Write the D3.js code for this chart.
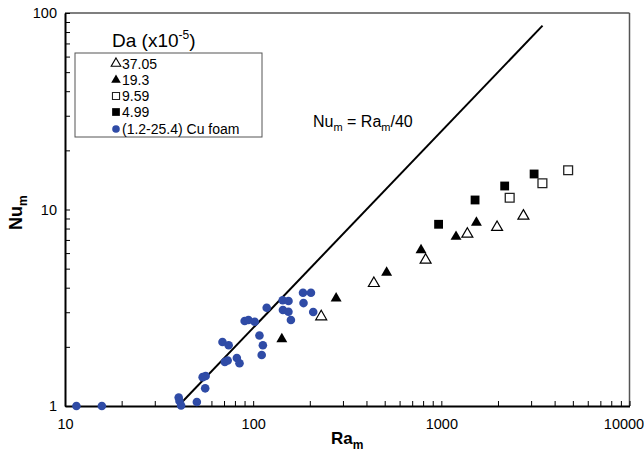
<!DOCTYPE html>
<html>
<head>
<meta charset="utf-8">
<script src="https://cdn.jsdelivr.net/npm/d3@7"></script>
<style>
  body { margin: 0; background: #fff; }
  text { font-family: "Liberation Sans", Arial, sans-serif; fill: #000; }
</style>
</head>
<body>
<svg id="chart" width="644" height="452"></svg>
<script>
// values
var openTriRa = [230, 438, 825, 1375, 1978, 2730];          // Da 37.05
var openTriNu = [2.85, 4.21, 5.53, 7.50, 8.12, 9.27];
var fillTriRa = [142, 276, 512, 780, 1197, 1536];            // Da 19.3
var fillTriNu = [2.19, 3.53, 4.77, 6.22, 7.27, 8.57];
var openSqRa = [2308, 3445, 4720];                           // Da 9.59
var openSqNu = [11.48, 13.6, 15.83];
var fillSqRa = [967, 1511, 2171, 3112];                      // Da 4.99
var fillSqNu = [8.41, 11.18, 13.17, 15.16];
var foamRa = [11.5, 15.7, 40.2, 40.6, 41.4, 50.2, 53.9, 55.9, 55.6, 68.7, 74.1, 70.7, 73.2, 81.9, 84.6,
              90.1, 94.4, 101.9, 108, 112.6, 111, 118, 143.5, 154.1, 143.9, 154, 158.7, 184, 202.8, 185.2, 208.5];
var foamNu = [1.0, 1.0, 1.105, 1.06, 1.006, 1.048, 1.402, 1.421, 1.23, 2.117, 2.037, 1.675, 1.704, 1.755, 1.65,
              2.708, 2.74, 2.686, 2.285, 2.039, 1.817, 3.165, 3.45, 3.42, 3.08, 3.015, 2.74, 3.77, 3.77, 3.34, 3.01];
var lineRa = [40, 3450];   // Nu = Ra/40
var xLabels = [10, 100, 1000, 10000];
var yLabels = [1, 10, 100];
var legendLabels = ["37.05", "19.3", "9.59", "4.99", "(1.2-25.4) Cu foam"];

var svg = d3.select("#chart");
var plotL = 65, plotR = 629.5, plotT = 13, plotB = 406;
var blue = "#2f4ba6";

var x = d3.scaleLog().domain([10, 10000]).range([plotL, plotR]);
var y = d3.scaleLog().domain([1, 100]).range([plotB, plotT]);

// frame: top and right in grey
svg.append("line").attr("x1", plotL).attr("x2", plotR).attr("y1", plotT).attr("y2", plotT)
  .attr("stroke", "#555").attr("stroke-width", 1.5);
svg.append("line").attr("x1", plotR).attr("x2", plotR).attr("y1", plotT).attr("y2", plotB)
  .attr("stroke", "#555").attr("stroke-width", 1.5);

// axes
var xAxis = d3.axisBottom(x).tickValues(x.ticks()).tickSizeInner(-5).tickSizeOuter(0).tickPadding(13)
  .tickFormat(function (d) { return xLabels.indexOf(d) >= 0 ? d : ""; });
var gx = svg.append("g").attr("transform", "translate(0," + plotB + ")").call(xAxis);

var yAxis = d3.axisLeft(y).tickValues(y.ticks()).tickSizeInner(-5).tickSizeOuter(0).tickPadding(8)
  .tickFormat(function (d) { return yLabels.indexOf(d) >= 0 ? d : ""; });
var gy = svg.append("g").attr("transform", "translate(" + plotL + ",0)").call(yAxis);

[gx, gy].forEach(function (g) {
  g.select(".domain").attr("stroke", "#000").attr("stroke-width", 2);
  g.selectAll(".tick line").attr("stroke", "#000").attr("stroke-width", 1);
  g.selectAll(".tick text").attr("font-size", 14.5).attr("font-family", "Liberation Sans, Arial, sans-serif");
});
gx.selectAll(".tick text").filter(function (d) { return d === 10000; }).attr("dx", -6);

// axis titles
var xt = svg.append("text").attr("x", 331).attr("y", 444).attr("font-size", 17).attr("font-weight", "bold");
xt.append("tspan").text("Ra");
xt.append("tspan").attr("font-size", 12).attr("dy", 5).text("m");

var yt = svg.append("text").attr("transform", "translate(22,230) rotate(-90)").attr("font-size", 18).attr("font-weight", "bold");
yt.append("tspan").text("Nu");
yt.append("tspan").attr("font-size", 12).attr("dy", 5).text("m");

// Nu = Ra/40 line
svg.append("line")
  .attr("x1", x(lineRa[0])).attr("y1", y(lineRa[0] / 40))
  .attr("x2", x(lineRa[1])).attr("y2", y(lineRa[1] / 40))
  .attr("stroke", "#000").attr("stroke-width", 2);

var eq = svg.append("text").attr("x", 313).attr("y", 127).attr("font-size", 16);
eq.append("tspan").text("Nu");
eq.append("tspan").attr("font-size", 11).attr("dy", 4).text("m");
eq.append("tspan").attr("dy", -4).text(" = Ra");
eq.append("tspan").attr("font-size", 11).attr("dy", 4).text("m");
eq.append("tspan").attr("dy", -4).text("/40");

// markers
var tri = d3.symbol().type(d3.symbolTriangle).size(52);
var sq = d3.symbol().type(d3.symbolSquare).size(78);

function pts(ra, nu) { return ra.map(function (r, i) { return [r, nu[i]]; }); }

svg.append("g").selectAll("circle").data(pts(foamRa, foamNu)).enter().append("circle")
  .attr("cx", function (d) { return x(d[0]); }).attr("cy", function (d) { return y(d[1]); })
  .attr("r", 4.3).attr("fill", blue);

svg.append("g").selectAll("path").data(pts(fillTriRa, fillTriNu)).enter().append("path")
  .attr("d", tri).attr("fill", "#000")
  .attr("transform", function (d) { return "translate(" + x(d[0]) + "," + y(d[1]) + ")"; });

svg.append("g").selectAll("path").data(pts(openTriRa, openTriNu)).enter().append("path")
  .attr("d", tri).attr("fill", "#fff").attr("stroke", "#000").attr("stroke-width", 1.2)
  .attr("transform", function (d) { return "translate(" + x(d[0]) + "," + y(d[1]) + ")"; });

svg.append("g").selectAll("path").data(pts(fillSqRa, fillSqNu)).enter().append("path")
  .attr("d", sq).attr("fill", "#000")
  .attr("transform", function (d) { return "translate(" + x(d[0]) + "," + y(d[1]) + ")"; });

svg.append("g").selectAll("path").data(pts(openSqRa, openSqNu)).enter().append("path")
  .attr("d", sq).attr("fill", "#fff").attr("stroke", "#222").attr("stroke-width", 1.3)
  .attr("transform", function (d) { return "translate(" + x(d[0]) + "," + y(d[1]) + ")"; });

// legend
var title = svg.append("text").attr("x", 112).attr("y", 47).attr("font-size", 19);
title.append("tspan").text("Da (x10");
title.append("tspan").attr("font-size", 12).attr("dy", -8).text("-5");
title.append("tspan").attr("dy", 8).text(")");

svg.append("rect").attr("x", 75).attr("y", 53).attr("width", 187).attr("height", 84)
  .attr("fill", "none").attr("stroke", "#555").attr("stroke-width", 1);

var rowY = [63.5, 80, 96, 112, 129];
var lg = svg.append("g");
lg.append("path").attr("d", d3.symbol().type(d3.symbolTriangle).size(40))
  .attr("transform", "translate(116," + rowY[0] + ")").attr("fill", "#fff").attr("stroke", "#000").attr("stroke-width", 1.1);
lg.append("path").attr("d", d3.symbol().type(d3.symbolTriangle).size(40))
  .attr("transform", "translate(116," + rowY[1] + ")").attr("fill", "#000");
lg.append("path").attr("d", d3.symbol().type(d3.symbolSquare).size(50))
  .attr("transform", "translate(116," + rowY[2] + ")").attr("fill", "#fff").attr("stroke", "#222").attr("stroke-width", 1.1);
lg.append("path").attr("d", d3.symbol().type(d3.symbolSquare).size(60))
  .attr("transform", "translate(116," + rowY[3] + ")").attr("fill", "#000");
lg.append("circle").attr("cx", 116).attr("cy", rowY[4]).attr("r", 3.8).attr("fill", blue);
lg.selectAll("text").data(legendLabels).enter().append("text")
  .attr("x", 122).attr("y", function (d, i) { return rowY[i] + 5; })
  .attr("font-size", 14).text(function (d) { return d; });
</script>
</body>
</html>
